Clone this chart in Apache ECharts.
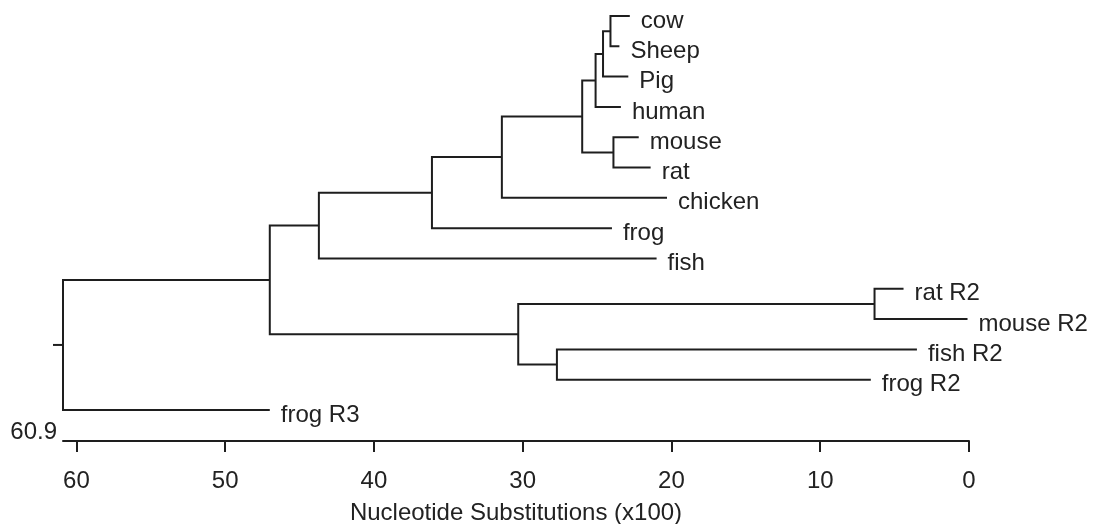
<!DOCTYPE html>
<html><head><meta charset="utf-8">
<script src="https://cdn.jsdelivr.net/npm/echarts@6/dist/echarts.min.js"></script>
<style>html,body{margin:0;padding:0;background:#fff}#c{width:1096px;height:524px}</style>
</head><body><div id="c"></div>
<script>
// ---- data ----
const leafNames = ['cow','Sheep','Pig','human','mouse','rat','chicken','frog','fish','rat R2','mouse R2','fish R2','frog R2','frog R3'];
const leafDist  = [22.8, 23.5, 22.9, 23.4, 22.2, 21.4, 20.3, 24.0, 21.0, 4.4, 0.1, 3.5, 6.6, 47.0];
const nodeNames = ['n1','n2','n3','n4','n5','n6','n7','n8','n9','n10','n11','n12','root'];
const nodeLeft  = ['cow','n1','n2','mouse','n3','n5','n6','n7','rat R2','fish R2','n9','n8','n12'];
const nodeRight = ['Sheep','Pig','human','rat','n4','chicken','frog','fish','mouse R2','frog R2','n10','n11','frog R3'];
const nodeDist  = [24.1, 24.6, 25.1, 23.9, 26.0, 31.4, 36.1, 43.7, 6.35, 27.7, 30.3, 47.0, 60.9];
const xTicks = [0, 10, 20, 30, 40, 50, 60];
const axisMax = 60.9;
const axisTitle = 'Nucleotide Substitutions (x100)';

// ---- build tree geometry in data space ----
const pos = {};
leafNames.forEach((n, i) => { pos[n] = [leafDist[i], i]; });
nodeNames.forEach((n, i) => {
  const a = pos[nodeLeft[i]], b = pos[nodeRight[i]];
  pos[n] = [nodeDist[i], (a[1] + b[1]) / 2];
});
const elbows = nodeNames.map((n, i) => {
  const a = pos[nodeLeft[i]], b = pos[nodeRight[i]], x = nodeDist[i];
  return [a[0], a[1], x, b[0], b[1], n === 'root' ? 1 : 0];
});
const leafData = leafNames.map((n, i) => ({ value: [leafDist[i], i], name: n }));

const FONT = 'Liberation Sans, Arial, sans-serif';
const INK = '#1e1e1e';
const TXT = '#222222';
const chart = echarts.init(document.getElementById('c'), null, { renderer: 'canvas' });
chart.setOption({
  animation: false,
  backgroundColor: '#fff',
  grid: { left: 63, right: 127, top: 16, bottom: 114, containLabel: false, outerBoundsMode: 'none' },
  xAxis: {
    type: 'value', inverse: true, min: 0, max: axisMax, offset: 31, position: 'bottom',
    axisLine: { show: true, onZero: false, lineStyle: { color: INK, width: 2 } },
    axisTick: { show: true, customValues: xTicks, length: 11, lineStyle: { color: INK, width: 2 } },
    axisLabel: { customValues: xTicks, margin: 28, fontSize: 24, fontFamily: FONT, color: TXT },
    splitLine: { show: false },
    name: axisTitle, nameLocation: 'middle', nameGap: 60,
    nameTextStyle: { fontSize: 24, fontFamily: FONT, color: TXT }
  },
  yAxis: { type: 'value', inverse: true, min: 0, max: leafNames.length - 1, show: false },
  series: [
    {
      type: 'custom', clip: false, silent: true,
      data: elbows,
      renderItem: function (params, api) {
        const pa = api.coord([api.value(0), api.value(1)]);
        const pn1 = api.coord([api.value(2), api.value(1)]);
        const pn2 = api.coord([api.value(2), api.value(4)]);
        const pb = api.coord([api.value(3), api.value(4)]);
        const children = [{
          type: 'polyline',
          shape: { points: [pa, pn1, pn2, pb] },
          style: { stroke: INK, lineWidth: 2, fill: null, lineJoin: 'miter' }
        }];
        if (api.value(5) === 1) {
          const my = (pn1[1] + pn2[1]) / 2;
          children.push({
            type: 'line',
            shape: { x1: pn1[0] - 10, y1: my, x2: pn1[0], y2: my },
            style: { stroke: INK, lineWidth: 2 }
          });
        }
        return { type: 'group', children: children };
      }
    },
    {
      type: 'scatter', symbolSize: 0, silent: true,
      itemStyle: { opacity: 1 },
      data: leafData,
      label: {
        show: true, position: 'right', distance: 11, offset: [0, 5], opacity: 1,
        textBorderWidth: 0, formatter: p => p.name, fontSize: 24, fontFamily: FONT, color: TXT
      }
    }
  ]
});
const corner = chart.convertToPixel({ gridIndex: 0 }, [axisMax, leafNames.length - 1]);
chart.setOption({
  graphic: [{
    type: 'text', x: corner[0] - 6, y: corner[1] + 22,
    style: { text: String(axisMax), fontSize: 24, fontFamily: FONT, fill: TXT, align: 'right', verticalAlign: 'middle' }
  }]
});
</script></body></html>
